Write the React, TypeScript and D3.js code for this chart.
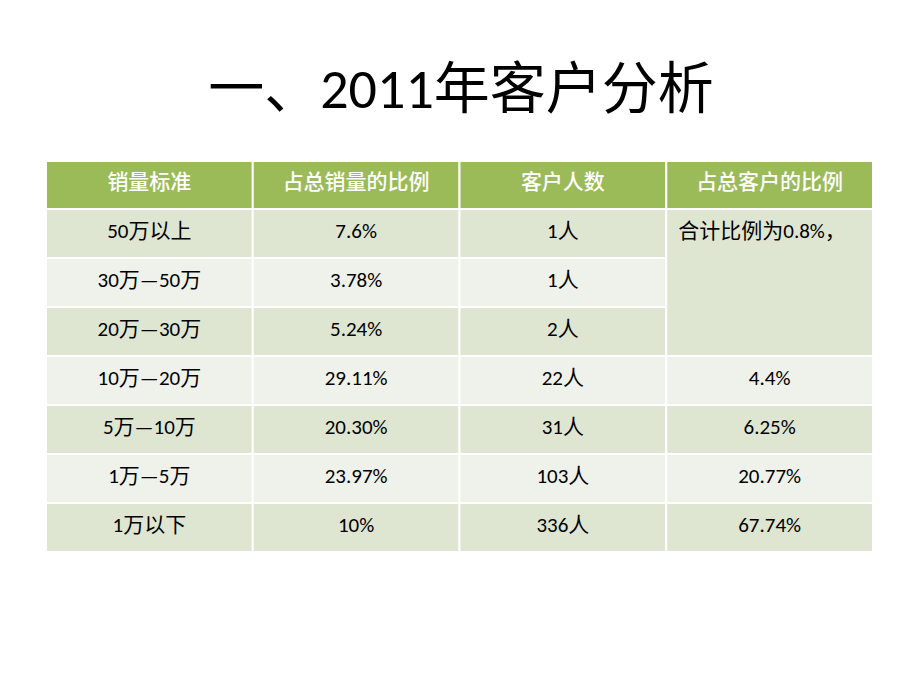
import React from "react";
import * as d3 from "d3";

const title = "一、2011年客户分析";
const headers = ["销量标准", "占总销量的比例", "客户人数", "占总客户的比例"];
const categories = ["50万以上", "30万—50万", "20万—30万", "10万—20万", "5万—10万", "1万—5万", "1万以下"];
const salesShare = ["7.6%", "3.78%", "5.24%", "29.11%", "20.30%", "23.97%", "10%"];
const customerCount = ["1人", "1人", "2人", "22人", "31人", "103人", "336人"];
const customerShare = ["合计比例为0.8%，", "", "", "4.4%", "6.25%", "20.77%", "67.74%"];
const mergedRows = [0, 1, 2];

const W = 920;
const H = 690;
const FONT = "Calibri, Carlito, 'Noto Sans CJK SC', 'Noto Sans', sans-serif";

export default function App() {
  const x = d3.scaleBand<number>().domain([0, 1, 2, 3]).range([46, 873]).padding(0);
  const headerTop = 161;
  const headerBottom = 209;
  const y = d3.scaleBand<number>().domain(d3.range(categories.length)).range([headerBottom, 552]).padding(0);
  const bandColor = (i: number) => (i % 2 === 0 ? "#DEE6D2" : "#EFF2EA");
  const cols = [categories, salesShare, customerCount];
  const mergedTop = y(mergedRows[0])!;
  const mergedBottom = y(mergedRows[mergedRows.length - 1])! + y.bandwidth();
  const fs = 21;
  const base = 29;

  return (
    <svg width={W} height={H} style={{ position: "absolute", left: 0, top: 0 }}>
      <rect x={0} y={0} width={W} height={H} fill="#ffffff" />
      <text x={461} y={108} textAnchor="middle" fontFamily={FONT} fontSize={56} fill="#000">
        {title}
      </text>
      {headers.map((h, c) => (
        <g key={"h" + c}>
          <rect x={x(c)!} y={headerTop} width={x.bandwidth()} height={headerBottom - headerTop} fill="#9BBB59" stroke="#fff" strokeWidth={2} />
          <text x={x(c)! + x.bandwidth() / 2} y={headerTop + 28} textAnchor="middle" fontFamily={FONT} fontSize={fs} fontWeight={500} fill="#fff">
            {h}
          </text>
        </g>
      ))}
      {categories.map((_, r) => (
        <g key={"r" + r}>
          {cols.map((col, c) => (
            <g key={c}>
              <rect x={x(c)!} y={y(r)!} width={x.bandwidth()} height={y.bandwidth()} fill={bandColor(r)} stroke="#fff" strokeWidth={2} />
              <text x={x(c)! + x.bandwidth() / 2} y={y(r)! + base} textAnchor="middle" fontFamily={FONT} fontSize={fs} fill="#000">
                {col[r]}
              </text>
            </g>
          ))}
          {!mergedRows.includes(r) && (
            <g>
              <rect x={x(3)!} y={y(r)!} width={x.bandwidth()} height={y.bandwidth()} fill={bandColor(r)} stroke="#fff" strokeWidth={2} />
              <text x={x(3)! + x.bandwidth() / 2} y={y(r)! + base} textAnchor="middle" fontFamily={FONT} fontSize={fs} fill="#000">
                {customerShare[r]}
              </text>
            </g>
          )}
        </g>
      ))}
      <rect x={x(3)!} y={mergedTop} width={x.bandwidth()} height={mergedBottom - mergedTop} fill={bandColor(0)} stroke="#fff" strokeWidth={2} />
      <text x={x(3)! + 12} y={mergedTop + base} textAnchor="start" fontFamily={FONT} fontSize={fs} fill="#000">
        {customerShare[0]}
      </text>
    </svg>
  );
}
